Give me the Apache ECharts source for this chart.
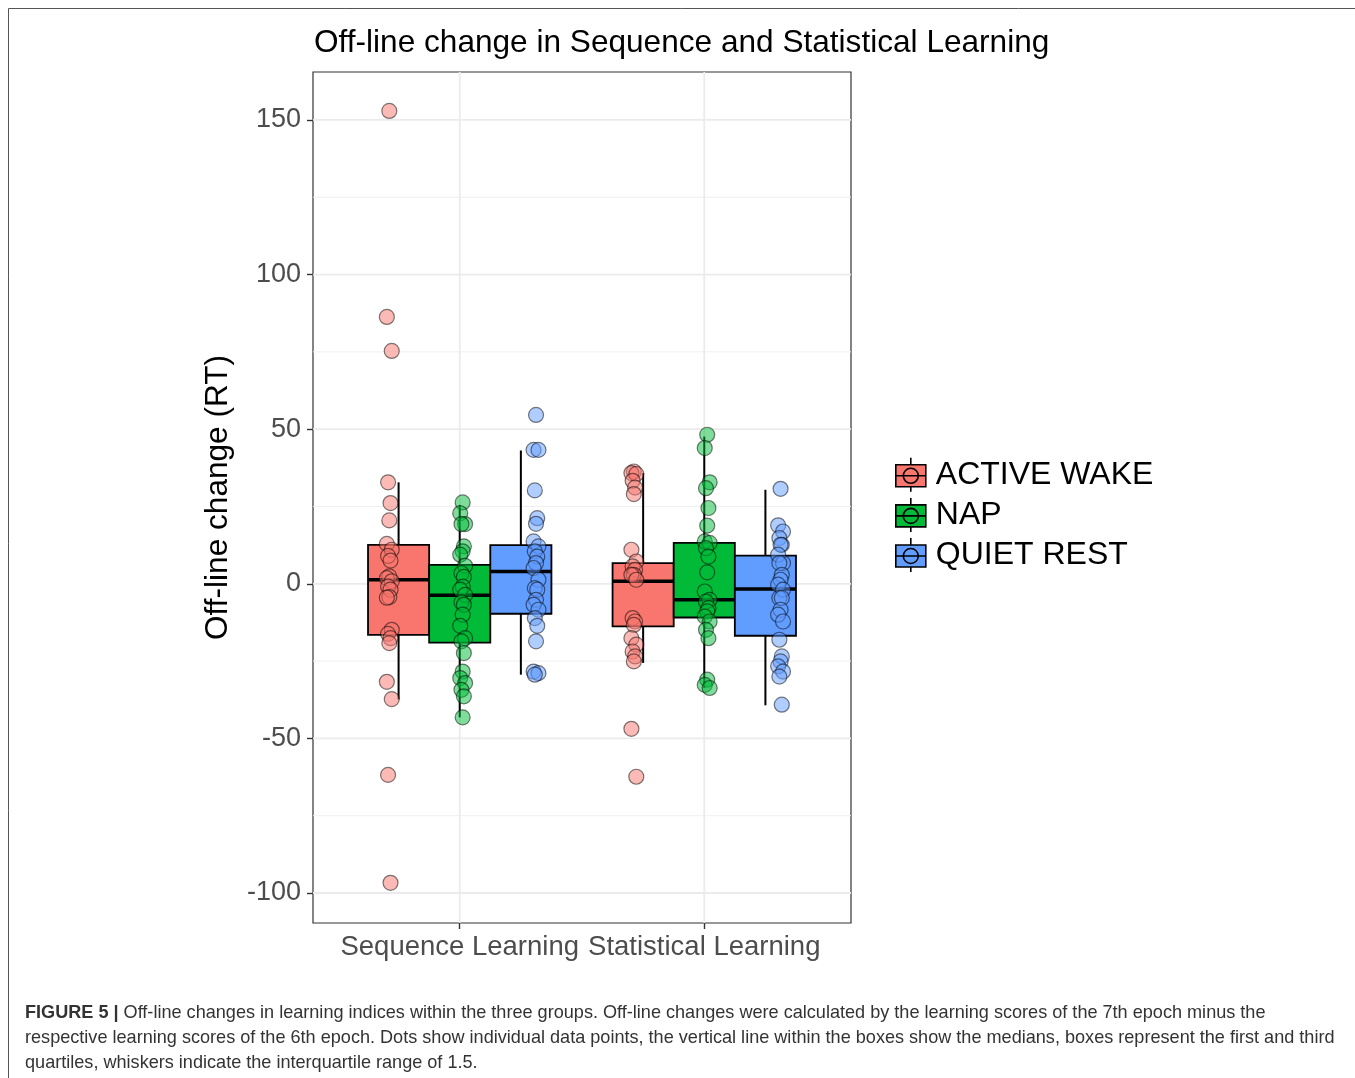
<!DOCTYPE html>
<html>
<head>
<meta charset="utf-8">
<script src="https://cdn.jsdelivr.net/npm/echarts@6/dist/echarts.min.js"></script>
<style>
html,body{margin:0;padding:0;background:#fff;}
#chart{width:1355px;height:1078px;}
</style>
</head>
<body>
<div id="chart"></div>
<script>
// ---- data ----
const categories = ['Sequence Learning', 'Statistical Learning'];
const groups = ['ACTIVE WAKE', 'NAP', 'QUIET REST'];
const yTicks = [-100, -50, 0, 50, 100, 150];
const yMinorGrid = [-75, -25, 25, 75, 125];

// individual points
const wakeSeq = [152.9, 86.3, 75.3, 32.8, 26.1, 20.5, 12.9, 11.0, 9.0, 7.5, 2.4, 1.8, 0.8, -0.9, -1.9, -4.3, -4.5, -14.9, -16.2, -17.6, -19.2, -31.7, -37.3, -61.8, -96.7];
const napSeq = [26.3, 22.8, 19.3, 19.3, 12.1, 10.5, 9.4, 5.8, 3.4, 2.2, -0.9, -1.9, -3.6, -6.0, -6.8, -10.0, -13.6, -17.6, -18.6, -22.4, -28.4, -30.5, -32.1, -34.3, -36.4, -43.2];
const restSeq = [54.6, 43.3, 43.3, 30.2, 21.2, 19.4, 13.7, 12.1, 10.5, 8.8, 6.7, 5.1, 1.3, -1.4, -1.9, -5.2, -6.8, -8.4, -11.1, -13.6, -18.6, -28.4, -28.9, -29.4];
const wakeStat = [36.3, 35.8, 35.5, 33.3, 31.1, 29.0, 11.0, 7.2, 5.6, 4.5, 2.9, 2.9, 1.3, -11.1, -12.2, -13.3, -17.6, -19.7, -21.9, -23.5, -25.1, -46.9, -62.4];
const napStat = [48.2, 43.9, 32.8, 30.9, 24.5, 18.8, 13.7, 13.2, 11.5, 8.8, 3.7, -2.5, -5.2, -5.8, -7.9, -8.9, -10.6, -12.2, -14.9, -17.6, -31.0, -32.7, -33.7];
const restStat = [30.7, 18.9, 16.9, 14.8, 12.6, 12.6, 9.4, 6.7, 6.7, 2.9, 1.3, -0.3, -1.9, -4.6, -4.6, -8.4, -10.0, -12.2, -18.1, -23.5, -25.1, -26.7, -28.4, -30.0, -39.1];

// box stats: [lower whisker, Q1, median, Q3, upper whisker]
const wakeBoxSeq = [-37.4, -16.5, 1.3, 12.6, 32.8];
const napBoxSeq = [-43.2, -19.0, -3.7, 6.1, 25.5];
const restBoxSeq = [-29.4, -9.7, 4.0, 12.5, 43.1];
const wakeBoxStat = [-25.6, -13.8, 0.8, 6.7, 35.8];
const napBoxStat = [-33.7, -10.9, -5.2, 13.2, 47.6];
const restBoxStat = [-39.3, -16.8, -1.7, 9.1, 30.4];

// ---- assembly ----
const pointsByGroup = [[wakeSeq, wakeStat], [napSeq, napStat], [restSeq, restStat]];
const boxesByGroup = [[wakeBoxSeq, wakeBoxStat], [napBoxSeq, napBoxStat], [restBoxSeq, restBoxStat]];
const colors = ['#F8766D', '#00BA38', '#619CFF'];
const pointFill = ['rgba(248,118,109,0.5)', 'rgba(0,186,56,0.5)', 'rgba(97,156,255,0.5)'];
const FONT = '"Liberation Sans", Arial, Helvetica, sans-serif';

const boxOffset = [-0.25, 0, 0.25];
const boxHalf = 0.125;
const pointOffset = [-0.288, 0.012, 0.312];
const jitterPattern = [0, -0.01, 0.01, -0.005, 0.005];

const series = [];

// grid lines
series.push({
  type: 'custom', name: 'gridlines', silent: true, z: 0,
  data: [[1, 0]],
  renderItem: function (params, api) {
    const cs = params.coordSys;
    const children = [];
    yMinorGrid.forEach(v => {
      const p = api.coord([1, v]);
      children.push({type: 'line', shape: {x1: cs.x, y1: p[1], x2: cs.x + cs.width, y2: p[1]},
        style: {stroke: '#F0F0F0', lineWidth: 1}});
    });
    yTicks.forEach(v => {
      const p = api.coord([1, v]);
      children.push({type: 'line', shape: {x1: cs.x, y1: p[1], x2: cs.x + cs.width, y2: p[1]},
        style: {stroke: '#EBEBEB', lineWidth: 1.8}});
    });
    categories.forEach((c, ci) => {
      const p = api.coord([ci + 1, 0]);
      children.push({type: 'line', shape: {x1: p[0], y1: cs.y, x2: p[0], y2: cs.y + cs.height},
        style: {stroke: '#EBEBEB', lineWidth: 1.8}});
    });
    return {type: 'group', children: children};
  }
});

// boxes
groups.forEach((g, gi) => {
  series.push({
    type: 'custom', name: g, z: 2,
    data: categories.map((c, ci) => [ci + 1].concat(boxesByGroup[gi][ci])),
    encode: {x: 0, y: [1, 2, 3, 4, 5]},
    renderItem: function (params, api) {
      const xc = api.value(0) + boxOffset[gi];
      const lo = api.coord([xc, api.value(1)]);
      const q1 = api.coord([xc, api.value(2)]);
      const md = api.coord([xc, api.value(3)]);
      const q3 = api.coord([xc, api.value(4)]);
      const hi = api.coord([xc, api.value(5)]);
      const l = api.coord([xc - boxHalf, 0])[0];
      const r = api.coord([xc + boxHalf, 0])[0];
      return {type: 'group', children: [
        {type: 'line', shape: {x1: lo[0], y1: lo[1], x2: q1[0], y2: q1[1]}, style: {stroke: '#000', lineWidth: 2}},
        {type: 'line', shape: {x1: q3[0], y1: q3[1], x2: hi[0], y2: hi[1]}, style: {stroke: '#000', lineWidth: 2}},
        {type: 'rect', shape: {x: l, y: q3[1], width: r - l, height: q1[1] - q3[1]},
          style: {fill: colors[gi], stroke: '#000', lineWidth: 1.8}},
        {type: 'line', shape: {x1: l, y1: md[1], x2: r, y2: md[1]}, style: {stroke: '#000', lineWidth: 3.5}}
      ]};
    }
  });
});

// points
groups.forEach((g, gi) => {
  const data = [];
  categories.forEach((c, ci) => {
    pointsByGroup[gi][ci].forEach((v, i) => {
      data.push([ci + 1 + pointOffset[gi] + jitterPattern[i % jitterPattern.length], v]);
    });
  });
  series.push({
    type: 'scatter', name: g, z: 3, data: data, symbol: 'circle', symbolSize: 15,
    itemStyle: {color: pointFill[gi], borderColor: 'rgba(0,0,0,0.5)', borderWidth: 1.2, opacity: 1},
    emphasis: {disabled: true}
  });
});

const legendIcon = 'path://M15 0L15 7M0 7L30 7L30 29L0 29ZM0 18L30 18M15 29L15 34M22.5 18A7.5 7.5 0 1 1 7.5 18A7.5 7.5 0 1 1 22.5 18Z';

const option = {
  backgroundColor: '#fff',
  animation: false,
  title: {
    text: 'Off-line change in Sequence and Statistical Learning',
    left: 309, top: 22,
    textStyle: {fontFamily: FONT, fontSize: 31.6, fontWeight: 'normal', color: '#000'}
  },
  grid: {left: 313, top: 72, width: 538, height: 851, show: true,
    backgroundColor: '#fff', borderColor: '#333', borderWidth: 1.2},
  legend: {
    orient: 'vertical', left: 890, top: 452, itemWidth: 30, itemHeight: 34, itemGap: 4.5,
    selectedMode: false,
    textStyle: {fontFamily: FONT, fontSize: 32, color: '#000', padding: [0, 0, 0, 5]},
    data: groups.map((g, gi) => ({name: g, icon: legendIcon,
      itemStyle: {color: colors[gi], borderColor: '#000', borderWidth: 1.6}}))
  },
  xAxis: {
    type: 'value', min: 0.4, max: 2.6,
    axisLine: {show: false, onZero: false},
    splitLine: {show: false},
    axisTick: {show: true, customValues: [1, 2], length: 6, lineStyle: {color: '#333', width: 1.4}},
    axisLabel: {customValues: [1, 2], formatter: v => categories[Math.round(v) - 1],
      fontFamily: FONT, fontSize: 27.5, color: '#4D4D4D', margin: 10}
  },
  yAxis: {
    type: 'value', min: -109.7, max: 165.5,
    name: 'Off-line change (RT)', nameLocation: 'middle', nameGap: 79,
    nameTextStyle: {fontFamily: FONT, fontSize: 31.6, color: '#000'},
    axisLine: {show: false, onZero: false},
    splitLine: {show: false},
    axisTick: {show: true, customValues: yTicks, length: 6, lineStyle: {color: '#333', width: 1.4}},
    axisLabel: {customValues: yTicks, fontFamily: FONT, fontSize: 27, color: '#4D4D4D', margin: 12}
  },
  graphic: [
    {type: 'line', shape: {x1: 8.5, y1: 8.5, x2: 1355, y2: 8.5}, style: {stroke: '#555', lineWidth: 1}},
    {type: 'line', shape: {x1: 8.5, y1: 8.5, x2: 8.5, y2: 1078}, style: {stroke: '#555', lineWidth: 1}},
    {type: 'text', left: 25, top: 1000,
      style: {
        text: '{b|FIGURE 5 |} Off-line changes in learning indices within the three groups. Off-line changes were calculated by the learning scores of the 7th epoch minus the\nrespective learning scores of the 6th epoch. Dots show individual data points, the vertical line within the boxes show the medians, boxes represent the first and third\nquartiles, whiskers indicate the interquartile range of 1.5.',
        fontFamily: FONT, fontSize: 18.1, lineHeight: 25, fill: '#333',
        rich: {b: {fontFamily: FONT, fontSize: 18.1, fontWeight: 'bold', fill: '#333', lineHeight: 25}}
      }}
  ],
  series: series
};

const chart = echarts.init(document.getElementById('chart'), null, {renderer: 'canvas'});
chart.setOption(option);
</script>
</body>
</html>
